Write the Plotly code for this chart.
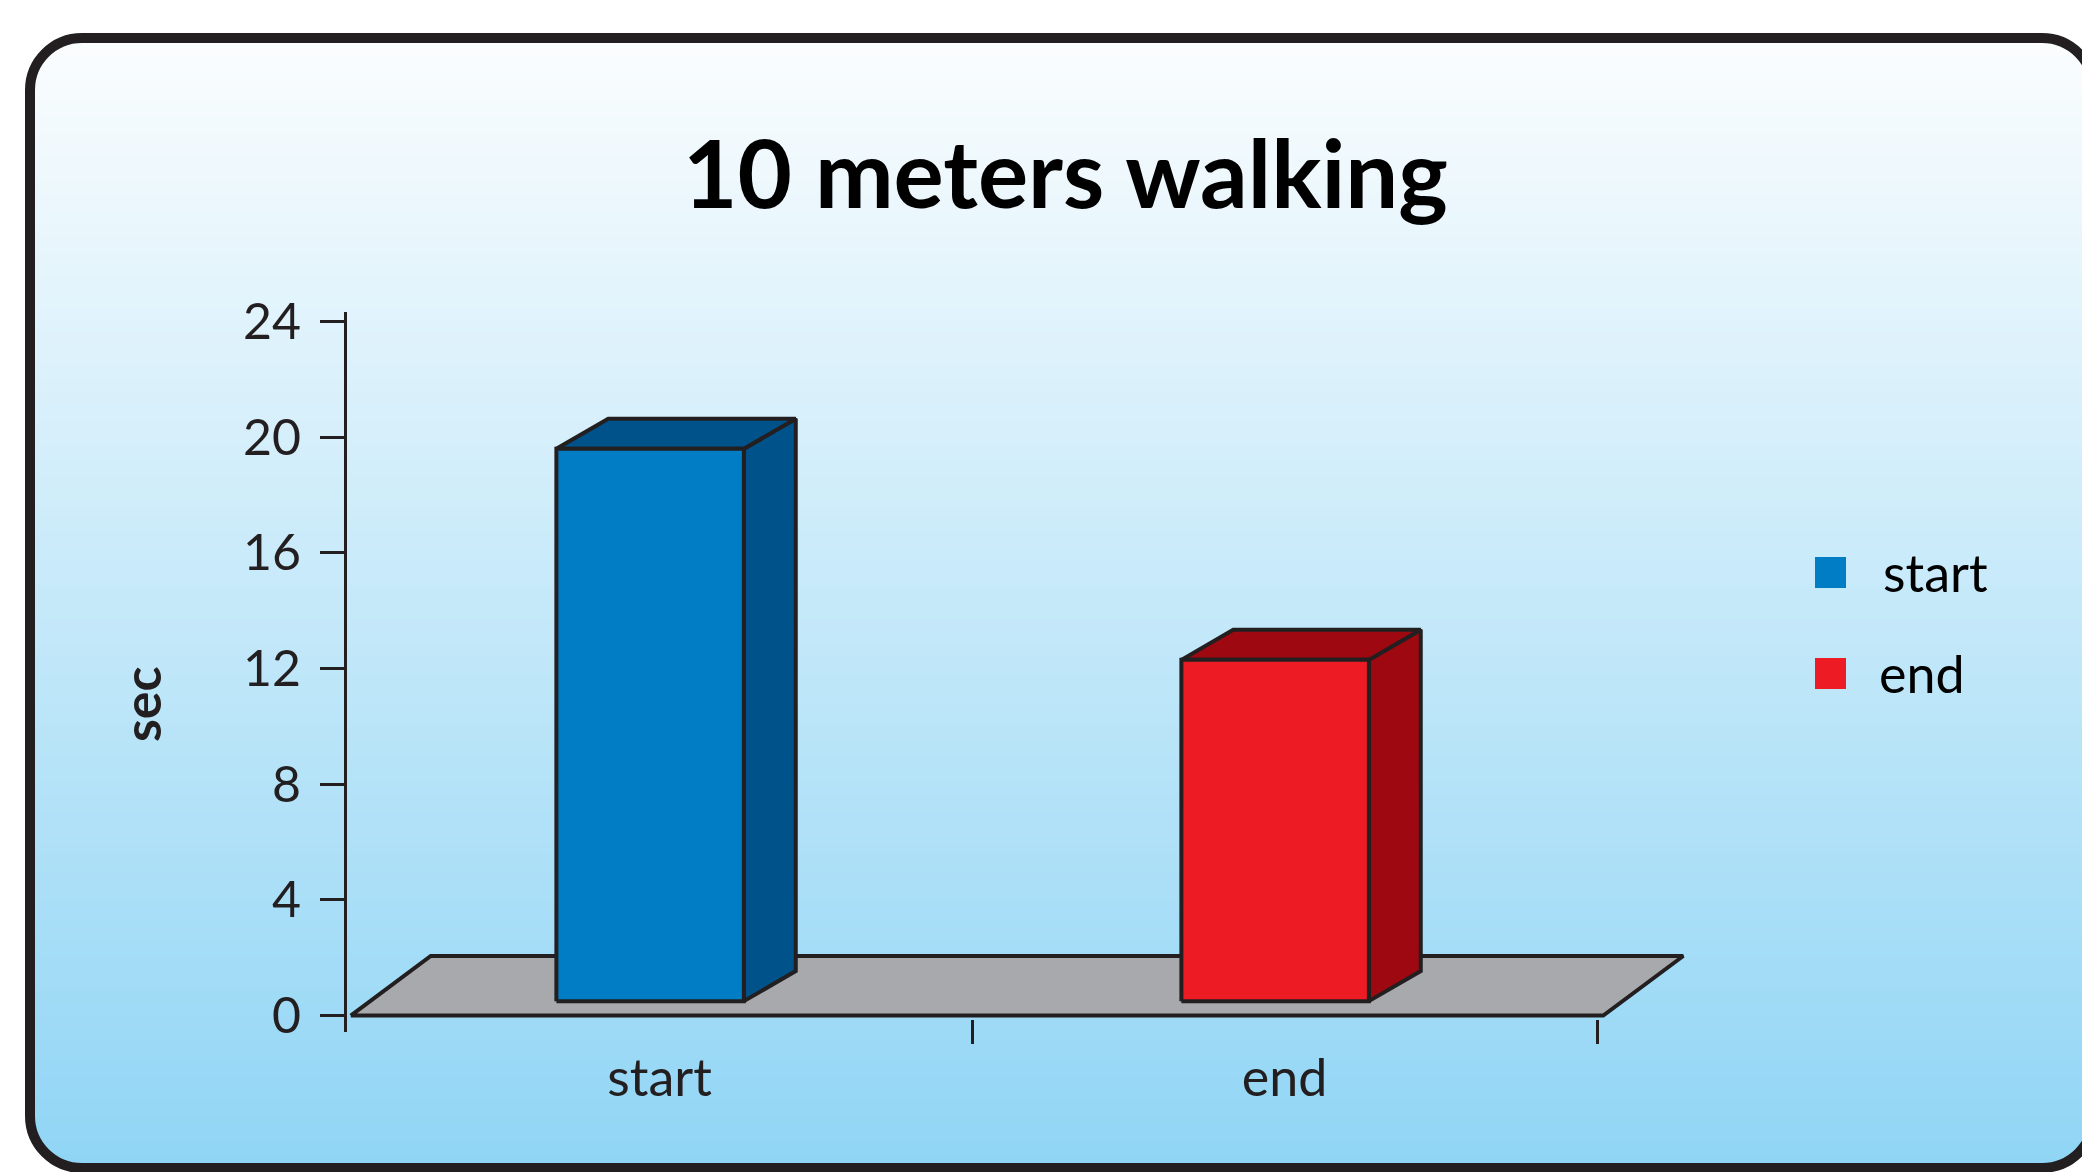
import plotly.graph_objects as go

# ---------------- data ----------------
categories = ["start", "end"]
values = [19.6, 12.3]
front_colors = ["#007dc5", "#ed1c24"]
side_colors = ["#00538a", "#9e0810"]
ytick_vals = [0, 4, 8, 12, 16, 20, 24]
title_text = "10 meters walking"
y_title = "sec"

# ---------------- geometry / style ----------------
W, H = 2090, 1172
OFF = 8  # browser body margin offset of the figure inside the page
# plot area in viewport pixels
PL, PR, PT, PB = 347, 1691, 312, 1032
ML, MT = PL - OFF, PT - OFF
MR = W - (PR - OFF)
MB = H - (PB - OFF)
PW = PR - PL
PH = PB - PT
X_RANGE = [-0.5, -0.5 + PW / 625.0]
Y_RANGE = [-0.567, 24.328]

OUTLINE = "#231f20"
FLOOR_COLOR = "#a7a9ac"
BAR_W = 0.30
BAR_SHIFT = -0.015
BAR_BASE = 0.5
DEPTH_DX = 0.083
DEPTH_DY = 1.04
FLOOR_X0, FLOOR_X1, FLOOR_DX, FLOOR_DY = -0.494, 1.51, 0.128, 2.06
FONT = "Lato"


def px_x(px):
    return (px - PL) / PW


def px_y(py):
    return (PB - py) / PH


fig = go.Figure()

# floor (on x)
fig.add_trace(go.Scatter(
    x=[FLOOR_X0, FLOOR_X1, FLOOR_X1 + FLOOR_DX, FLOOR_X0 + FLOOR_DX, FLOOR_X0],
    y=[0, 0, FLOOR_DY, FLOOR_DY, 0],
    mode="lines", fill="toself", fillcolor=FLOOR_COLOR,
    line=dict(color=OUTLINE, width=4), hoverinfo="skip", showlegend=False,
    xaxis="x", yaxis="y"))

# 3D bars (on x2, drawn above the floor)
for i, (cat, v) in enumerate(zip(categories, values)):
    c = i + BAR_SHIFT
    x0, x1 = c - BAR_W / 2, c + BAR_W / 2
    b = BAR_BASE
    common = dict(mode="lines", fill="toself", line=dict(color=OUTLINE, width=4),
                  showlegend=False, xaxis="x2", yaxis="y", name=cat)
    # side face
    fig.add_trace(go.Scatter(
        x=[x1, x1, x1 + DEPTH_DX, x1 + DEPTH_DX, x1],
        y=[b, v, v + DEPTH_DY, b + DEPTH_DY, b],
        fillcolor=side_colors[i], hoverinfo="skip", **common))
    # top face
    fig.add_trace(go.Scatter(
        x=[x0, x0 + DEPTH_DX, x1 + DEPTH_DX, x1, x0],
        y=[v, v + DEPTH_DY, v + DEPTH_DY, v, v],
        fillcolor=side_colors[i], hoverinfo="skip", **common))
    # front face
    fig.add_trace(go.Scatter(
        x=[x0, x1, x1, x0, x0],
        y=[b, b, v, v, b],
        fillcolor=front_colors[i], hovertemplate=f"{cat}: {v}<extra></extra>", **common))

shapes = []
# gradient background bands, clipped to rounded frame
FX0, FX1, FY0, FY1, R = 30, 2094, 38, 1168, 52
top_rgb = (251, 253, 254)
bot_rgb = (144, 213, 245)
step = 6
yy = FY0
while yy < FY1:
    ya, yb = yy, min(yy + step, FY1)
    mid = (ya + yb) / 2
    t = (mid - FY0) / (FY1 - FY0)
    col = tuple(round(top_rgb[k] + (bot_rgb[k] - top_rgb[k]) * t) for k in range(3))
    inset = 0
    if mid < FY0 + R:
        d = FY0 + R - mid
        inset = R - (R * R - d * d) ** 0.5
    elif mid > FY1 - R:
        d = mid - (FY1 - R)
        inset = R - (max(R * R - d * d, 0)) ** 0.5
    shapes.append(dict(type="rect", xref="paper", yref="paper", layer="below",
                       x0=px_x(FX0 + inset), x1=px_x(FX1 - inset),
                       y0=px_y(yb + 0.6), y1=px_y(ya),
                       fillcolor="rgb(%d,%d,%d)" % col, line=dict(width=0)))
    yy += step

# rounded frame
k = 0.5523 * R


def P(x, y):
    return f"{px_x(x):.5f},{px_y(y):.5f}"


path = (f"M {P(FX0 + R, FY0)} L {P(FX1 - R, FY0)} "
        f"C {P(FX1 - R + k, FY0)} {P(FX1, FY0 + R - k)} {P(FX1, FY0 + R)} "
        f"L {P(FX1, FY1 - R)} "
        f"C {P(FX1, FY1 - R + k)} {P(FX1 - R + k, FY1)} {P(FX1 - R, FY1)} "
        f"L {P(FX0 + R, FY1)} "
        f"C {P(FX0 + R - k, FY1)} {P(FX0, FY1 - R + k)} {P(FX0, FY1 - R)} "
        f"L {P(FX0, FY0 + R)} "
        f"C {P(FX0, FY0 + R - k)} {P(FX0 + R - k, FY0)} {P(FX0 + R, FY0)} Z")
shapes.append(dict(type="path", xref="paper", yref="paper", layer="below", path=path,
                   line=dict(color=OUTLINE, width=10)))

# legend (manual, large squares)
annotations = []
legend_sq_y = [557, 658]
legend_txt_x = [1881, 1877]
for i, cat in enumerate(categories):
    y0 = legend_sq_y[i]
    shapes.append(dict(type="rect", xref="paper", yref="paper",
                       x0=px_x(1815), x1=px_x(1846), y0=px_y(y0 + 31), y1=px_y(y0),
                       fillcolor=front_colors[i], line=dict(width=0)))
    annotations.append(dict(text=cat, xref="paper", yref="paper", showarrow=False,
                            x=px_x(legend_txt_x[i]), y=px_y(y0 + 15), xanchor="left", yanchor="middle",
                            font=dict(family=FONT, size=52, color="#000000")))

annotations.append(dict(text=title_text, xref="paper", yref="paper", showarrow=False,
                        x=px_x(1065), y=px_y(171), xanchor="center", yanchor="middle",
                        font=dict(family=FONT, size=94, color="#000000", weight=700)))
annotations.append(dict(text=y_title, xref="paper", yref="paper", showarrow=False,
                        x=px_x(141), y=px_y(704), xanchor="center", yanchor="middle",
                        textangle=-90,
                        font=dict(family=FONT, size=52, color=OUTLINE, weight=700)))

fig.update_layout(
    width=W, height=H,
    margin=dict(l=ML, r=MR, t=MT, b=MB, pad=0),
    paper_bgcolor="white", plot_bgcolor="rgba(0,0,0,0)",
    showlegend=False,
    shapes=shapes, annotations=annotations,
    xaxis=dict(range=X_RANGE, tickmode="array", tickvals=list(range(len(categories))),
               ticktext=categories, ticks="", showline=False, showgrid=False, zeroline=False,
               tickfont=dict(family=FONT, size=52, color=OUTLINE), ticklabelstandoff=11,
               fixedrange=True),
    xaxis2=dict(range=X_RANGE, overlaying="x", anchor="free", position=px_y(1019), side="bottom",
                tickmode="array", tickvals=[i + 0.5 for i in range(len(categories))],
                ticks="outside", ticklen=24, tickwidth=3, tickcolor=OUTLINE,
                showticklabels=False, showline=False, showgrid=False, zeroline=False,
                fixedrange=True),
    yaxis=dict(range=Y_RANGE, tickmode="array", tickvals=ytick_vals,
               ticks="outside", ticklen=24, tickwidth=3, tickcolor=OUTLINE,
               showline=True, linewidth=3, linecolor=OUTLINE,
               showgrid=False, zeroline=False,
               tickfont=dict(family=FONT, size=50, color=OUTLINE), ticklabelstandoff=9,
               fixedrange=True),
)

fig.write_html("out.html")
